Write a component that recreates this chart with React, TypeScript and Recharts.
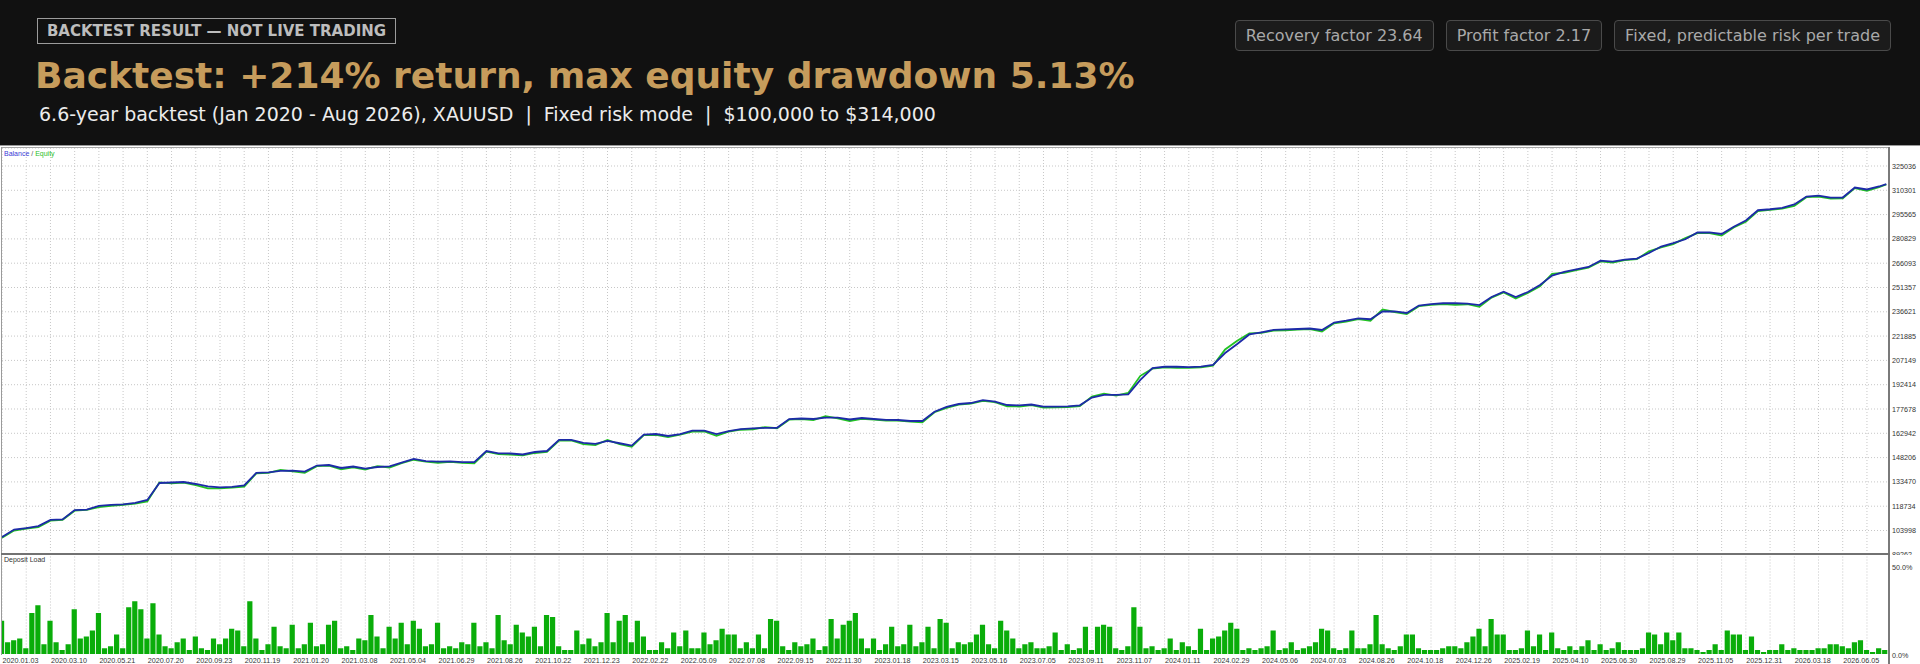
import { LineChart, Line, BarChart, Bar, XAxis, YAxis, CartesianGrid } from 'recharts';

// balance / equity sampled every half grid cell (x in grid units)
const BALANCE = [
  100000, 104600, 105500, 106700, 110400, 110700, 116400, 116700, 118900, 119500,
  119800, 120700, 122500, 132800, 133100, 133400, 132200, 130700, 130100, 130400,
  131300, 139000, 139300, 140100, 140300, 139700, 143400, 143700, 141900, 142800,
  141500, 142500, 142900, 145200, 147400, 146100, 145800, 145900, 145500, 145500,
  152200, 150800, 150700, 150100, 151600, 152200, 158900, 158900, 157100, 156500,
  158300, 156900, 155500, 162200, 162500, 161300, 162500, 164500, 164500, 162500,
  164300, 165500, 165900, 166200, 166300, 171600, 171900, 171600, 172500, 172500,
  171300, 172200, 171600, 171100, 171000, 170400, 170400, 176000, 178900, 180700,
  181300, 183000, 182200, 180100, 179900, 180400, 179100, 179100, 179300, 179900,
  184600, 186200, 186200, 186500, 195300, 202500, 203300, 203300, 203100, 203400,
  204400, 211600, 217100, 222900, 224200, 225600, 226000, 226200, 226500, 225600,
  230100, 231200, 232600, 232100, 236800, 236900, 235900, 240400, 241300, 241800,
  241800, 241600, 240700, 245600, 248800, 245600, 248600, 252900, 258600, 260800,
  262300, 263800, 267600, 267000, 268300, 268900, 272300, 276200, 278300, 280600,
  284700, 284800, 283800, 288200, 292000, 298200, 298800, 299700, 301700, 306500,
  307100, 305800, 305900, 312000, 310800, 312600,
];

const EQUITY = [
  99600, 104000, 105200, 106000, 110000, 110500, 116000, 116500, 118200, 119000,
  119600, 120300, 121600, 133200, 132600, 133000, 131500, 129600, 129500, 130000,
  130600, 138600, 139000, 140700, 139800, 138900, 143000, 143300, 141100, 142300,
  141000, 143000, 142200, 144800, 146900, 145700, 145000, 145600, 145000, 144700,
  151800, 150300, 150000, 149600, 151000, 151700, 158500, 158600, 156400, 155800,
  158900, 156300, 154700, 161800, 162000, 160600, 162100, 164000, 164100, 161400,
  163900, 165100, 165400, 166700, 166000, 171200, 171500, 171000, 173300, 172000,
  170400, 171700, 171200, 170700, 170600, 170000, 169600, 175700, 178400, 180300,
  180900, 182600, 181800, 179300, 179200, 180000, 178500, 178700, 178900, 179400,
  185200, 187000, 185800, 187400, 197800, 202100, 202900, 202700, 202600, 203000,
  204000, 213800, 219000, 223500, 223800, 225200, 225300, 225800, 226100, 224700,
  229600, 230700, 232200, 231200, 238000, 236500, 235200, 240000, 240800, 241300,
  240900, 241200, 239600, 245200, 248300, 244700, 248000, 252100, 259600, 260300,
  261900, 263400, 267200, 266400, 267900, 268500, 273300, 275700, 277700, 281300,
  284300, 284400, 282800, 287800, 291200, 297700, 298400, 299200, 300800, 306100,
  306400, 305200, 305400, 311600, 310000, 312200,
];

const FINAL_X = 77.8;
const FINAL_BALANCE = 314000;
const FINAL_EQUITY = 313800;

// deposit load %, sampled every quarter grid cell
const LOAD = [
  17, 6, 7, 8, 3, 21, 25, 5, 17, 6, 2, 5, 23, 8, 9, 12, 21, 3, 4, 10,
  3, 24, 27, 23, 8, 26, 10, 4, 3, 6, 8, 2, 9, 3, 2, 8, 5, 8, 13, 12,
  4, 27, 8, 2, 5, 14, 4, 3, 15, 3, 5, 16, 4, 5, 15, 17, 3, 4, 2, 8,
  7, 20, 9, 3, 14, 8, 16, 5, 17, 13, 4, 5, 16, 3, 4, 3, 6, 5, 16, 4,
  6, 3, 20, 7, 5, 15, 11, 9, 14, 4, 20, 19, 4, 2, 2, 12, 5, 8, 4, 6,
  21, 6, 17, 20, 6, 17, 9, 2, 2, 6, 3, 11, 4, 12, 3, 3, 11, 5, 7, 13,
  10, 10, 3, 6, 3, 10, 3, 18, 17, 4, 2, 6, 4, 5, 8, 2, 4, 18, 8, 15,
  17, 21, 8, 3, 8, 2, 5, 14, 4, 5, 15, 4, 6, 14, 3, 18, 16, 3, 6, 5,
  6, 10, 15, 5, 3, 17, 12, 8, 3, 5, 6, 3, 3, 4, 11, 2, 5, 2, 3, 14,
  2, 14, 15, 14, 3, 2, 4, 24, 14, 3, 4, 2, 3, 8, 2, 6, 4, 2, 13, 2,
  8, 9, 12, 16, 13, 2, 3, 2, 3, 4, 12, 2, 3, 6, 2, 3, 4, 6, 13, 12,
  3, 2, 3, 12, 3, 3, 5, 20, 5, 3, 2, 4, 10, 10, 3, 2, 2, 2, 3, 4,
  4, 3, 6, 9, 13, 4, 18, 10, 10, 2, 2, 3, 12, 4, 10, 2, 11, 3, 2, 4,
  2, 4, 7, 2, 5, 2, 3, 6, 2, 2, 2, 3, 11, 10, 5, 11, 7, 11, 3, 3,
  2, 1, 2, 5, 2, 12, 10, 10, 2, 9, 2, 1, 2, 2, 5, 2, 3, 2, 2, 2,
  3, 3, 5, 5, 4, 3, 6, 7, 2, 1, 3, 2,
];

const Y_TICKS = [
  89262, 103998, 118734, 133470, 148206, 162942, 177678, 192414, 207149,
  221885, 236621, 251357, 266093, 280829, 295565, 310301, 325036,
];

const DATE_LABELS = [
  '2020.01.03', '2020.03.10', '2020.05.21', '2020.07.20', '2020.09.23', '2020.11.19',
  '2021.01.20', '2021.03.08', '2021.05.04', '2021.06.29', '2021.08.26', '2021.10.22',
  '2021.12.23', '2022.02.22', '2022.05.09', '2022.07.08', '2022.09.15', '2022.11.30',
  '2023.01.18', '2023.03.15', '2023.05.16', '2023.07.05', '2023.09.11', '2023.11.07',
  '2024.01.11', '2024.02.29', '2024.05.06', '2024.07.03', '2024.08.26', '2024.10.18',
  '2024.12.26', '2025.02.19', '2025.04.10', '2025.06.30', '2025.08.29', '2025.11.05',
  '2025.12.31', '2026.03.18', '2026.06.05',
];

const BADGES = ['Recovery factor 23.64', 'Profit factor 2.17', 'Fixed, predictable risk per trade'];

const X_MAX = 77.91;
const GRID_TICKS = Array.from({ length: 78 }, (_, k) => k);

const equityData = BALANCE.map((b, i) => ({ x: i * 0.5, balance: b, equity: EQUITY[i] }));
equityData.push({ x: FINAL_X, balance: FINAL_BALANCE, equity: FINAL_EQUITY });

const loadData = LOAD.map((v, j) => ({ x: j * 0.25, load: v }));

const TICK_FONT = '"Liberation Sans", Arial, sans-serif';
const GRID_COLOR = '#c6c6c6';

const EmptyTick = () => <g />;

const DateTick = ({ x, y, payload }: any) => {
  const k = payload.value;
  if (k % 2 !== 0) return <g />;
  return (
    <text x={x + 0.5} y={y + 9} fontSize={7.2} fill="#333" fontFamily={TICK_FONT} textAnchor="start">
      {DATE_LABELS[k / 2]}
    </text>
  );
};

const LoadTick = ({ x, y, payload }: any) => (
  <text x={x} y={payload.value === 0 ? y + 4 : y + 5.5} fontSize={7.2} fill="#333" fontFamily={TICK_FONT} textAnchor="start">
    {payload.value.toFixed(1)}%
  </text>
);

export default function App() {
  return (
    <div style={{ position: 'absolute', left: 0, top: 0, width: 1920, height: 664, background: '#111111', overflow: 'hidden', fontFamily: '"DejaVu Sans", sans-serif' }}>
      {/* header */}
      <div style={{ position: 'absolute', left: 37, top: 18, width: 357, height: 24, border: '1px solid #9c9c9c', color: '#bdbdbd', fontWeight: 'bold', fontSize: 15, lineHeight: '24px', textAlign: 'center', whiteSpace: 'nowrap' }}>
        BACKTEST RESULT — NOT LIVE TRADING
      </div>
      <div style={{ position: 'absolute', left: 35, top: 58, color: '#c69c5c', fontWeight: 'bold', fontSize: 36, lineHeight: '36px', whiteSpace: 'nowrap' }}>
        Backtest: +214% return, max equity drawdown 5.13%
      </div>
      <div style={{ position: 'absolute', left: 39, top: 103, color: '#ececec', fontSize: 19, lineHeight: '22px', whiteSpace: 'nowrap' }}>
        6.6-year backtest (Jan 2020 - Aug 2026), XAUUSD
        <span style={{ margin: '0 12px' }}>|</span>
        Fixed risk mode
        <span style={{ margin: '0 12px' }}>|</span>
        $100,000 to $314,000
      </div>
      <div style={{ position: 'absolute', right: 29, top: 20, display: 'flex', gap: 12 }}>
        {BADGES.map((b) => (
          <div key={b} style={{ height: 29, lineHeight: '29px', padding: '0 10px', border: '1px solid #4a4a4a', borderRadius: 4, background: '#1b1b1b', color: '#a9a9a9', fontSize: 16, whiteSpace: 'nowrap' }}>
            {b}
          </div>
        ))}
      </div>

      {/* chart area */}
      <div style={{ position: 'absolute', left: 0, top: 145, width: 1920, height: 519, background: '#ffffff', borderTop: '1px solid #9a9a9a' }} />

      <div style={{ position: 'absolute', left: 0, top: 147, width: 1920, height: 408 }}>
        <LineChart width={1920} height={407.8} data={equityData} margin={{ top: 1, right: 0, bottom: 0, left: 2 }}>
          <CartesianGrid stroke={GRID_COLOR} strokeDasharray="1 2" />
          <XAxis dataKey="x" type="number" domain={[0, X_MAX]} ticks={GRID_TICKS} interval={0} height={0} tick={<EmptyTick />} axisLine={false} tickLine={false} allowDataOverflow />
          <YAxis
            orientation="right"
            width={31}
            domain={[89262, 335946]}
            ticks={Y_TICKS}
            interval={0}
            axisLine={false}
            tickLine={false}
            tickSize={0}
            tickMargin={3}
            allowDataOverflow
            tick={{ fontSize: 7.2, fill: '#333', fontFamily: TICK_FONT }}
          />
          <Line type="linear" dataKey="equity" stroke="#22c322" strokeWidth={1.8} dot={false} isAnimationActive={false} />
          <Line type="linear" dataKey="balance" stroke="#1d2aa8" strokeWidth={1.8} dot={false} isAnimationActive={false} />
        </LineChart>
      </div>

      <div style={{ position: 'absolute', left: 4, top: 150, fontSize: 7, fontFamily: TICK_FONT, lineHeight: '8px', whiteSpace: 'nowrap' }}>
        <span style={{ color: '#3b3bd6' }}>Balance</span>
        <span style={{ color: '#555' }}> / </span>
        <span style={{ color: '#2bc02b' }}>Equity</span>
      </div>

      <div style={{ position: 'absolute', left: 0, top: 554.5, width: 1920, height: 109.5, background: '#ffffff' }}>
        <BarChart width={1920} height={109.5} data={loadData} margin={{ top: 1.5, right: 0, bottom: 0, left: 2 }}>
          <CartesianGrid stroke={GRID_COLOR} strokeDasharray="1 2" horizontal={false} />
          <XAxis
            dataKey="x"
            type="number"
            domain={[0, X_MAX]}
            ticks={GRID_TICKS}
            height={10.5}
            axisLine={false}
            tickLine={false}
            tickSize={0}
            tickMargin={0}
            interval={0}
            tick={<DateTick />}
            allowDataOverflow
          />
          <YAxis
            orientation="right"
            width={31}
            domain={[0, 50]}
            ticks={[0, 50]}
            axisLine={false}
            tickLine={false}
            tickSize={0}
            tickMargin={3}
            tick={<LoadTick />}
          />
          <Bar dataKey="load" fill="#0aad0a" barSize={5.2} isAnimationActive={false} />
        </BarChart>
      </div>

      <div style={{ position: 'absolute', left: 4, top: 556, fontSize: 7, fontFamily: TICK_FONT, lineHeight: '8px', color: '#333', whiteSpace: 'nowrap' }}>
        Deposit Load
      </div>

      {/* frame lines */}
      <div style={{ position: 'absolute', left: 1, top: 147, width: 1888, height: 1, background: '#a6a6a6' }} />
      <div style={{ position: 'absolute', left: 1, top: 147, width: 1, height: 508, background: '#9a9a9a' }} />
      <div style={{ position: 'absolute', left: 1888, top: 147, width: 2, height: 517, background: '#7a7a7a' }} />
      <div style={{ position: 'absolute', left: 1, top: 552.8, width: 1889, height: 2, background: '#727272' }} />
    </div>
  );
}
